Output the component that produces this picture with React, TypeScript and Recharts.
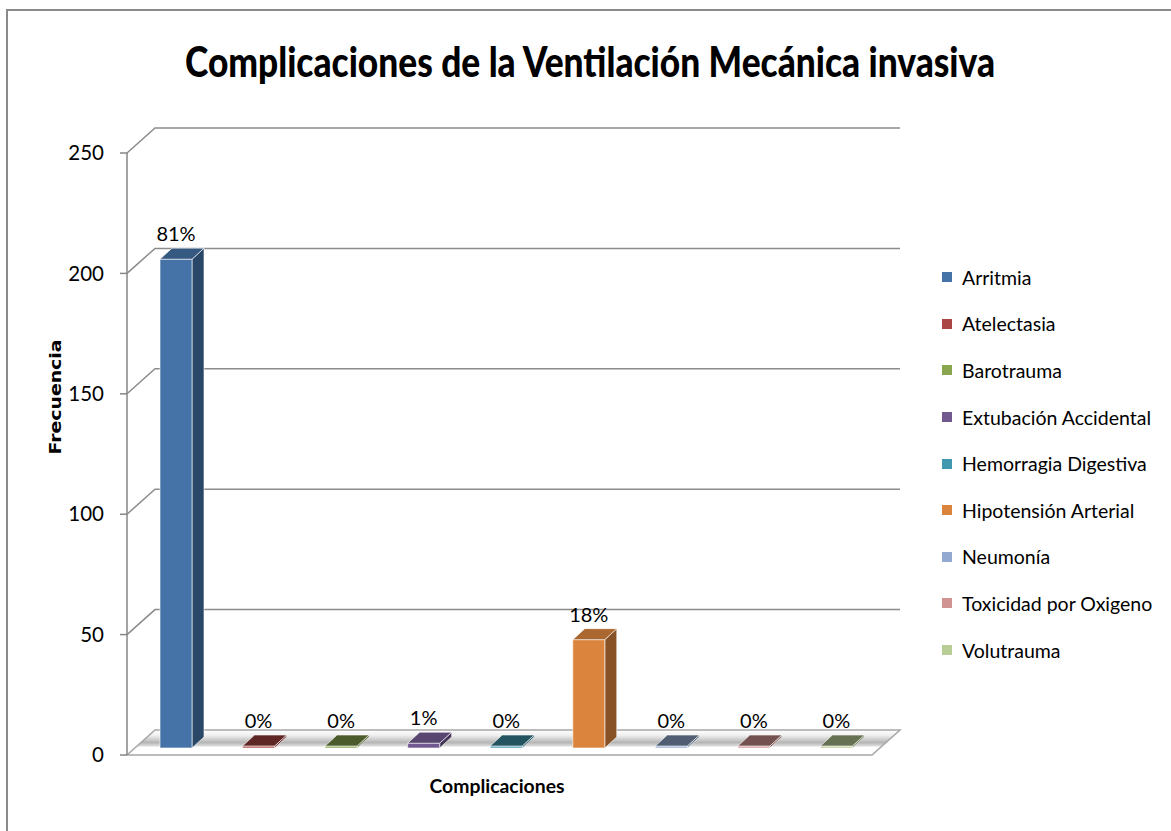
import { BarChart, Bar, XAxis, YAxis, CartesianGrid, Cell, Legend, LabelList, Label } from "recharts";

const categories = [
  "Arritmia",
  "Atelectasia",
  "Barotrauma",
  "Extubación Accidental",
  "Hemorragia Digestiva",
  "Hipotensión Arterial",
  "Neumonía",
  "Toxicidad por Oxigeno",
  "Volutrauma",
];
const frequencies = [203, 0, 0, 2, 0, 45, 0, 0, 0];
const colors = ["#4572A7", "#AA4643", "#89A54E", "#71588F", "#4198AF", "#DB843D", "#93A9CF", "#D19392", "#B9CD96"];
const yTicks = [0, 50, 100, 150, 200, 250];

const data = categories.map((name, i) => ({ name, value: frequencies[i] }));
const total = frequencies.reduce((a, b) => a + b, 0);

const FONT = "Lato, 'Open Sans', sans-serif";
// 3d look: back wall offset, bar offset into depth, bar depth
const WALL_DX = 28;
const WALL_DY = 25;
const BAR_OX = 8;
const BAR_OY = 7;
const BAR_DX = 12;
const BAR_DY = 11;

function shade(hex: string, f: number) {
  const n = parseInt(hex.slice(1), 16);
  const r = Math.round(((n >> 16) & 255) * f);
  const g = Math.round(((n >> 8) & 255) * f);
  const b = Math.round((n & 255) * f);
  return `rgb(${r},${g},${b})`;
}

// back wall gridline + floor for the zero line
function gridLine(p: any) {
  const { x1, y1, x2, y, height } = p;
  const isFloor = Math.abs(y1 - (y + height)) < 1;
  if (isFloor) {
    return (
      <g key={`floor-${y1}`}>
        <defs>
          <linearGradient id="floorGrad" x1="0" y1="0" x2="0" y2="1">
            <stop offset="0%" stopColor="#ffffff" />
            <stop offset="22%" stopColor="#eeeeee" />
            <stop offset="50%" stopColor="#b5b5b5" />
            <stop offset="64%" stopColor="#dcdcdc" />
            <stop offset="68%" stopColor="#ffffff" />
            <stop offset="100%" stopColor="#ffffff" />
          </linearGradient>
        </defs>
        <path
          d={`M${x1},${y1} L${x1 + WALL_DX},${y1 - WALL_DY} L${x2 + WALL_DX + 2},${y1 - WALL_DY} L${x2 + 2},${y1} Z`}
          fill="url(#floorGrad)"
          stroke="#a6a6a6"
          strokeWidth={1.5}
        />
      </g>
    );
  }
  return (
    <path
      key={`grid-${y1}`}
      d={`M${x1},${y1} L${x1 + WALL_DX},${y1 - WALL_DY} L${x2 + WALL_DX + 2},${y1 - WALL_DY}`}
      fill="none"
      stroke="#8c8c8c"
      strokeWidth={1.5}
    />
  );
}

function Bar3D(props: any) {
  const { x, y, width, height, index } = props;
  const base = colors[index];
  const value = frequencies[index];
  const left = x + BAR_OX;
  const right = left + width;
  const bottom = y + height - BAR_OY;
  const top = value > 0 ? y - BAR_OY : bottom - 2;
  const topFill = value > 0 ? shade(base, 0.78) : shade(base, 0.55);
  return (
    <g>
      <path
        d={`M${right},${top} L${right + BAR_DX},${top - BAR_DY} L${right + BAR_DX},${bottom - BAR_DY} L${right},${bottom} Z`}
        fill={shade(base, 0.62)}
        stroke="#ffffff"
        strokeOpacity={0.6}
        strokeWidth={1}
      />
      <rect x={left} y={top} width={width} height={bottom - top} fill={base} stroke="#ffffff" strokeOpacity={0.6} strokeWidth={1} />
      <path
        d={`M${left},${top} L${left + BAR_DX},${top - BAR_DY} L${right + BAR_DX},${top - BAR_DY} L${right},${top} Z`}
        fill={topFill}
        stroke="#ffffff"
        strokeOpacity={0.6}
        strokeWidth={1}
      />
    </g>
  );
}

function PercentLabel(p: any) {
  const vb = p.viewBox ?? p;
  const index = p.index;
  const value = frequencies[index];
  const bottom = vb.y + vb.height - BAR_OY;
  const top = value > 0 ? vb.y - BAR_OY : bottom - 2;
  const cx = vb.x + BAR_OX + vb.width / 2;
  return (
    <text x={cx} y={top - BAR_DY - 7} textAnchor="middle" fontFamily={FONT} fontSize={20} fill="#000">
      {Math.round((value / total) * 100)}%
    </text>
  );
}

function LegendBox() {
  return (
    <div style={{ fontFamily: FONT, fontSize: 19.5, color: "#000" }}>
      {categories.map((c, i) => (
        <div key={c} style={{ height: 46.6, display: "flex", alignItems: "center", whiteSpace: "nowrap" }}>
          <span style={{ display: "inline-block", width: 10, height: 10, background: colors[i], marginRight: 10 }} />
          {c}
        </div>
      ))}
    </div>
  );
}

export default function App() {
  return (
    <div style={{ position: "absolute", left: 0, top: 0, width: 1171, height: 831, background: "#fff" }}>
      <svg width={1171} height={831} style={{ position: "absolute", left: 0, top: 0 }}>
        <path d="M7,831 L7,10 L1171,10" fill="none" stroke="#8a8a8a" strokeWidth={2} />
        <text
          x={590}
          y={77}
          textAnchor="middle"
          fontFamily={FONT}
          fontWeight={900}
          fontSize={42}
          textLength={810}
          lengthAdjust="spacingAndGlyphs"
          fill="#000"
        >
          Complicaciones de la Ventilación Mecánica invasiva
        </text>
      </svg>
      <div style={{ position: "absolute", left: 0, top: 0 }}>
        <BarChart width={1171} height={831} data={data} margin={{ top: 153, right: 301, bottom: 36, left: 0 }}>
          <CartesianGrid vertical={false} horizontal={gridLine} />
          <XAxis dataKey="name" height={40} tick={false} tickLine={false} axisLine={false}>
            <Label
              content={() => (
                <text
                  x={497}
                  y={793}
                  textAnchor="middle"
                  fontFamily={FONT}
                  fontWeight="bold"
                  fontSize={19}
                  textLength={135}
                  lengthAdjust="spacingAndGlyphs"
                  fill="#000"
                >
                  Complicaciones
                </text>
              )}
            />
          </XAxis>
          <YAxis
            width={127}
            domain={[0, 250]}
            ticks={yTicks}
            interval={0}
            tickSize={7}
            tickMargin={16}
            axisLine={{ stroke: "#868686", strokeWidth: 1.5 }}
            tickLine={{ stroke: "#868686", strokeWidth: 1.5 }}
            tick={{ fill: "#000", fontSize: 20.5, fontFamily: FONT }}
          >
            <Label
              content={() => (
                <text
                  x={55}
                  y={397}
                  transform="rotate(-90 55 397)"
                  textAnchor="middle"
                  dominantBaseline="central"
                  fontFamily="'DejaVu Sans', Verdana, sans-serif"
                  fontWeight="bold"
                  fontSize={16}
                  textLength={115}
                  lengthAdjust="spacingAndGlyphs"
                  fill="#000"
                >
                  Frecuencia
                </text>
              )}
            />
          </YAxis>
          <Legend
            layout="vertical"
            align="center"
            verticalAlign="middle"
            wrapperStyle={{ left: 942, top: 254, width: 229 }}
            content={() => <LegendBox />}
          />
          <Bar dataKey="value" barSize={32} shape={<Bar3D />} isAnimationActive={false}>
            {data.map((d, i) => (
              <Cell key={d.name} fill={colors[i]} />
            ))}
            <LabelList dataKey="value" content={<PercentLabel />} />
          </Bar>
        </BarChart>
      </div>
    </div>
  );
}
